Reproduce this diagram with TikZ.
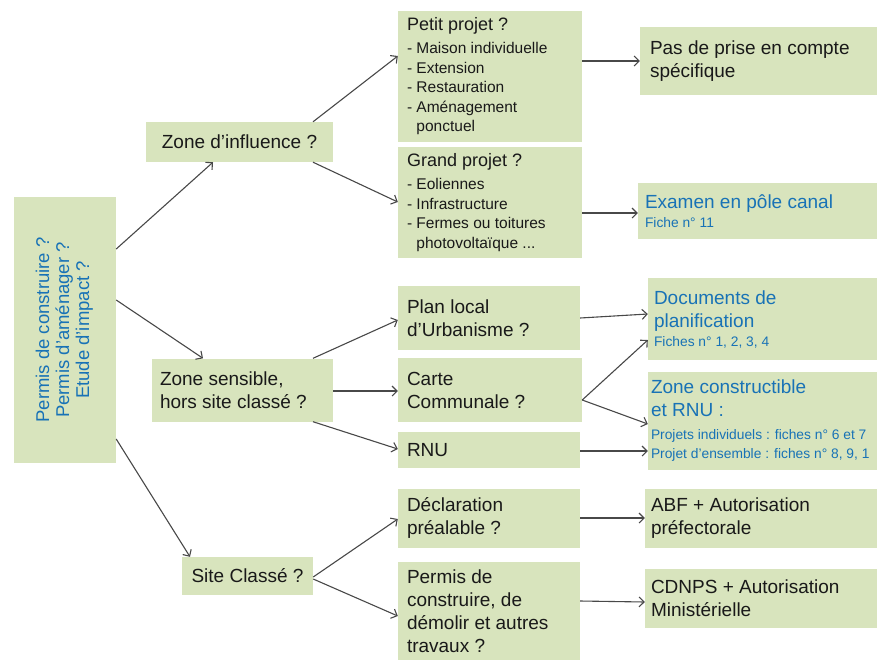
\documentclass[tikz,border=0pt]{standalone}
\usepackage{fontspec}
\usepackage{graphicx}
\setmainfont{Liberation Sans}
\usetikzlibrary{arrows.meta}

\newcommand{\bigtxt}{\fontsize{19}{23}\selectfont}
\newcommand{\headtxt}{\fontsize{18}{22}\selectfont}
\newcommand{\listtxt}{\fontsize{15.5}{19.5}\selectfont}
\newcommand{\fichetxt}{\fontsize{13.8}{19}\selectfont}

\begin{document}
\begin{tikzpicture}[x=1pt, y=-1pt, font=\bigtxt,
    box/.style={fill=boxgreen, text=txtblack, inner ysep=2pt, align=flush left},
    arr/.style={draw=linegray, line width=1.1pt, -{Straight Barb[length=5pt,width=10pt]}}]
    \definecolor{boxgreen}{RGB}{216,228,189}
    \definecolor{txtblue}{RGB}{24,114,182}
    \definecolor{txtblack}{RGB}{25,25,25}
    \definecolor{linegray}{RGB}{72,72,72}

    \useasboundingbox (0,0) rectangle (877,667);

    \node[box, minimum width=102, minimum height=266, inner sep=0pt, text=txtblue] (root) at (65,330)
      {\rotatebox{90}{\fontsize{18.5}{20}\selectfont\begin{tabular}{@{}c@{}}Permis de construire ?\\Permis d’aménager ?\\Etude d’impact ?\end{tabular}}};

    \node[box, align=center, minimum width=187, minimum height=40] (zinf) at (239.5,142) {Zone d’influence ?};
    \node[box, text width=165pt, inner xsep=8pt, minimum height=63] (zsens) at (242.5,390) {Zone sensible,\\hors site classé ?};
    \node[box, align=center, minimum width=131, minimum height=38] (site) at (247.5,576) {Site Classé ?};

    \node[box, text width=166pt, inner xsep=9pt, minimum height=131, font=\listtxt] (petit) at (490,76.5)
      {\headtxt Petit projet ?\\[3.5pt]\listtxt - Maison individuelle\\- Extension\\- Restauration\\- Aménagement\\\phantom{- }ponctuel};
    \node[box, text width=166pt, inner xsep=9pt, minimum height=111, font=\listtxt] (grand) at (490,202.5)
      {\headtxt Grand projet ?\\[3.5pt]\listtxt - Eoliennes\\- Infrastructure\\- Fermes ou toitures\\\phantom{- }photovoltaïque ...};
    \node[box, text width=164pt, inner xsep=9pt, minimum height=64] (plu) at (489,318) {Plan local\\d’Urbanisme ?};
    \node[box, text width=166pt, inner xsep=9pt, minimum height=64] (carte) at (490,390) {Carte\\Communale ?};
    \node[box, text width=164pt, inner xsep=9pt, minimum height=36] (rnu) at (489,450) {RNU};
    \node[box, text width=164pt, inner xsep=9pt, minimum height=59] (decl) at (489,518) {Déclaration\\préalable ?};
    \node[box, text width=164pt, inner xsep=9pt, minimum height=98] (permis) at (489,611)
      {Permis de\\construire, de\\démolir et autres\\travaux ?};

    \node[box, text width=217pt, inner xsep=10pt, minimum height=68] (pas) at (758.5,61) {Pas de prise en compte\\spécifique};
    \node[box, text width=225pt, inner xsep=7pt, minimum height=56, text=txtblue, font=\fichetxt] (examen) at (757.5,211)
      {\bigtxt Examen en pôle canal\\[0pt]\fichetxt Fiche n° 11};
    \node[box, text width=217pt, inner xsep=6pt, minimum height=82, text=txtblue, font=\fichetxt] (docs) at (762.5,319)
      {\bigtxt Documents de\\planification\\[0pt]\fichetxt Fiches n° 1, 2, 3, 4};
    \node[box, text width=223pt, inner xsep=3pt, minimum height=98, text=txtblue, font=\fichetxt] (zcons) at (762.5,421)
      {\bigtxt Zone constructible\\et RNU :\\[4pt]\fichetxt Projets individuels : fiches n° 6 et 7\\Projet d’ensemble : fiches n° 8, 9, 1};
    \node[box, text width=220pt, inner xsep=6pt, minimum height=59] (abf) at (761,518.5) {ABF + Autorisation\\préfectorale};
    \node[box, text width=220pt, inner xsep=6pt, minimum height=59] (cdnps) at (761,598.5) {CDNPS + Autorisation\\Ministérielle};

    \draw[arr] (root.east |- 0,249) -- (zinf.south -| 213,0);
    \draw[arr] (root.east |- 0,300) -- (zsens.north -| 203,0);
    \draw[arr] (root.east |- 0,439) -- (site.north -| 190,0);

    \draw[arr] (zinf.north -| 313,0) -- (petit.west |- 0,56);
    \draw[arr] (zinf.south -| 313,0) -- (grand.west |- 0,202);
    \draw[arr] (zsens.north -| 313,0) -- (plu.west |- 0,320);
    \draw[arr] (zsens.east |- 0,391) -- (carte.west |- 0,391);
    \draw[arr] (zsens.south -| 313,0) -- (rnu.west |- 0,449);
    \draw[arr] (site.east |- 0,577) -- (decl.west |- 0,519);
    \draw[arr] (site.east |- 0,579) -- (permis.west |- 0,616);

    \draw[arr] (petit.east |- 0,61) -- (pas.west |- 0,61);
    \draw[arr] (grand.east |- 0,213) -- (examen.west |- 0,213);
    \draw[arr] (plu.east |- 0,318) -- (docs.west |- 0,314);
    \draw[arr] (carte.east |- 0,400) -- (docs.west |- 0,340);
    \draw[arr] (carte.east |- 0,400) -- (zcons.west |- 0,424);
    \draw[arr] (rnu.east |- 0,451) -- (zcons.west |- 0,451);
    \draw[arr] (decl.east |- 0,518) -- (abf.west |- 0,518);
    \draw[arr] (permis.east |- 0,601) -- (cdnps.west |- 0,602);
  \end{tikzpicture}
\end{document}
